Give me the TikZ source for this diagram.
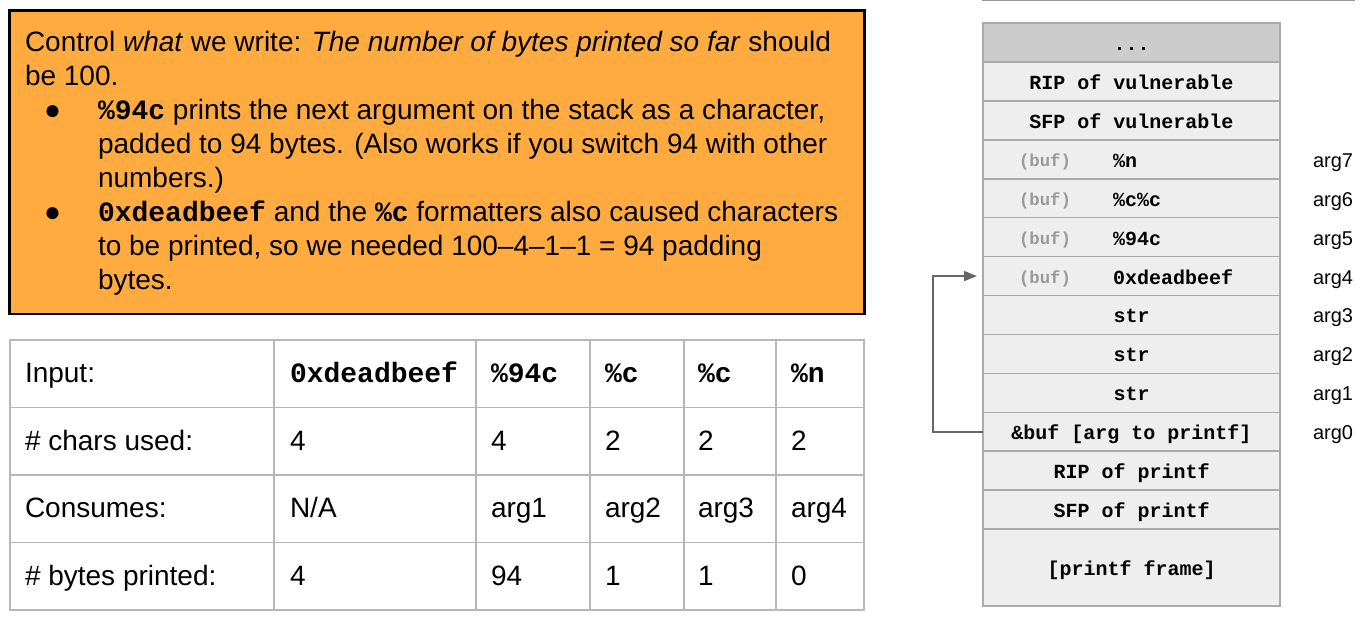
\documentclass[tikz,border=0pt]{standalone}
\usepackage{fontspec}
\setmainfont{Liberation Sans}
\setmonofont{Liberation Mono}
\usetikzlibrary{arrows.meta}

\definecolor{boxorange}{HTML}{FFAB40}
\definecolor{gridgray}{HTML}{B7B7B7}
\definecolor{cellgray}{HTML}{EEEEEE}
\definecolor{topgray}{HTML}{CCCCCC}
\definecolor{framegray}{HTML}{AAAAAA}
\definecolor{bufgray}{HTML}{999999}
\definecolor{arrowgray}{HTML}{666666}
\definecolor{rulegray}{HTML}{999999}

\newcommand{\code}[1]{{\ttfamily\bfseries #1}}

\begin{document}
\begin{tikzpicture}[x=1pt,y=-1pt,
  every node/.style={inner sep=0pt, outer sep=0pt},
  bigtext/.style={anchor=base west, font=\fontsize{28}{34}\selectfont},
  slot/.style={draw=framegray, line width=1.6pt, fill=cellgray,
    minimum width=297pt, minimum height=38.93pt,
    font=\fontsize{20}{24}\selectfont\ttfamily\bfseries,
    text height=16pt, text depth=0pt},
  buftag/.style={anchor=west, text=bufgray,
    font=\fontsize{17.3}{20}\selectfont\ttfamily\bfseries,
    text height=15pt, text depth=0pt},
  slotval/.style={anchor=west,
    font=\fontsize{20}{24}\selectfont\ttfamily\bfseries,
    text height=16pt, text depth=0pt},
  argname/.style={anchor=west, font=\fontsize{20}{24}\selectfont,
    text height=16pt, text depth=0pt},
  link/.style={draw=arrowgray, line width=1.5pt,
    -{Triangle[length=13pt,width=10pt]}}
]
\useasboundingbox (0,0) rectangle (1370,620);

% ---------- explanation box ----------
\draw[line width=2.6pt, fill=boxorange] (9.5,10.5) rectangle (864.5,314);
\node[bigtext] (l1) at (25,52) {Control \textit{what} we write: \textit{The number of bytes printed so far} should};
\node[bigtext] (l2) at (25,86) {be 100.};
\node[bigtext] (b1) at (44,120) {●};
\node[bigtext] (l3) at (98,120) {\code{\%94c} prints the next argument on the stack as a character,};
\node[bigtext] (l4) at (98,154) {padded to 94 bytes. (Also works if you switch 94 with other};
\node[bigtext] (l5) at (98,188) {numbers.)};
\node[bigtext] (b2) at (44,222) {●};
\node[bigtext] (l6) at (98,222) {\code{0xdeadbeef} and the \code{\%c} formatters also caused characters};
\node[bigtext] (l7) at (98,256) {to be printed, so we needed 100–4–1–1 = 94 padding};
\node[bigtext] (l8) at (98,290) {bytes.};

% ---------- table ----------
\draw[gridgray, line width=1.8pt] (10,340) rectangle (864,610);
\foreach \yy in {407.5,475,542.5} \draw[gridgray, line width=1.8pt] (10,\yy) -- (864,\yy);
\foreach \xx in {274,476,590,684,776} \draw[gridgray, line width=1.8pt] (\xx,340) -- (\xx,610);

\node[bigtext] (t11) at (25,382.5) {Input:};
\node[bigtext] (t12) at (290,382.5) {\code{0xdeadbeef}};
\node[bigtext] (t13) at (491,382.5) {\code{\%94c}};
\node[bigtext] (t14) at (605,382.5) {\code{\%c}};
\node[bigtext] (t15) at (698,382.5) {\code{\%c}};
\node[bigtext] (t16) at (791,382.5) {\code{\%n}};

\node[bigtext] (t21) at (25,450) {\# chars used:};
\node[bigtext] (t22) at (290,450) {4};
\node[bigtext] (t23) at (491,450) {4};
\node[bigtext] (t24) at (605,450) {2};
\node[bigtext] (t25) at (698,450) {2};
\node[bigtext] (t26) at (791,450) {2};

\node[bigtext] (t31) at (25,517.5) {Consumes:};
\node[bigtext] (t32) at (290,517.5) {N/A};
\node[bigtext] (t33) at (491,517.5) {arg1};
\node[bigtext] (t34) at (605,517.5) {arg2};
\node[bigtext] (t35) at (698,517.5) {arg3};
\node[bigtext] (t36) at (791,517.5) {arg4};

\node[bigtext] (t41) at (25,585) {\# bytes printed:};
\node[bigtext] (t42) at (290,585) {4};
\node[bigtext] (t43) at (491,585) {94};
\node[bigtext] (t44) at (605,585) {1};
\node[bigtext] (t45) at (698,585) {1};
\node[bigtext] (t46) at (791,585) {0};

% ---------- stack ----------
\draw[rulegray, line width=1.5pt] (982,0.75) -- (1355,0.75);

\node[slot, fill=topgray] (s0) at (1131.5,42.46) {...};
\node[slot] (s1) at (1131.5,81.40) {RIP of vulnerable};
\node[slot] (s2) at (1131.5,120.33) {SFP of vulnerable};
\node[slot] (s3) at (1131.5,159.26) {};
\node[slot] (s4) at (1131.5,198.19) {};
\node[slot] (s5) at (1131.5,237.12) {};
\node[slot] (s6) at (1131.5,276.05) {};
\node[slot] (s7) at (1131.5,314.98) {str};
\node[slot] (s8) at (1131.5,353.91) {str};
\node[slot] (s9) at (1131.5,392.84) {str};
\node[slot] (s10) at (1131.5,431.77) {\&buf [arg to printf]};
\node[slot] (s11) at (1131.5,470.70) {RIP of printf};
\node[slot] (s12) at (1131.5,509.63) {SFP of printf};
\node[slot, minimum height=76.9pt] (s13) at (1131.5,567.55) {[printf frame]};

\node[buftag] (g3) at (1019,159.26) {(buf)};
\node[buftag] (g4) at (1019,198.19) {(buf)};
\node[buftag] (g5) at (1019,237.12) {(buf)};
\node[buftag] (g6) at (1019,276.05) {(buf)};
\node[slotval] (v3) at (1113,159.26) {\%n};
\node[slotval] (v4) at (1113,198.19) {\%c\%c};
\node[slotval] (v5) at (1113,237.12) {\%94c};
\node[slotval] (v6) at (1113,276.05) {0xdeadbeef};

\node[argname] (a7) at (1313,159.26) {arg7};
\node[argname] (a6) at (1313,198.19) {arg6};
\node[argname] (a5) at (1313,237.12) {arg5};
\node[argname] (a4) at (1313,276.05) {arg4};
\node[argname] (a3) at (1313,314.98) {arg3};
\node[argname] (a2) at (1313,353.91) {arg2};
\node[argname] (a1) at (1313,392.84) {arg1};
\node[argname] (a0) at (1313,431.77) {arg0};

% pointer from the format string argument back to buf
\coordinate (bufentry) at ([xshift=-6pt]s6.west);
\draw[link] (s10.west) -- ++(-50,0) |- (bufentry);

\end{tikzpicture}
\end{document}
